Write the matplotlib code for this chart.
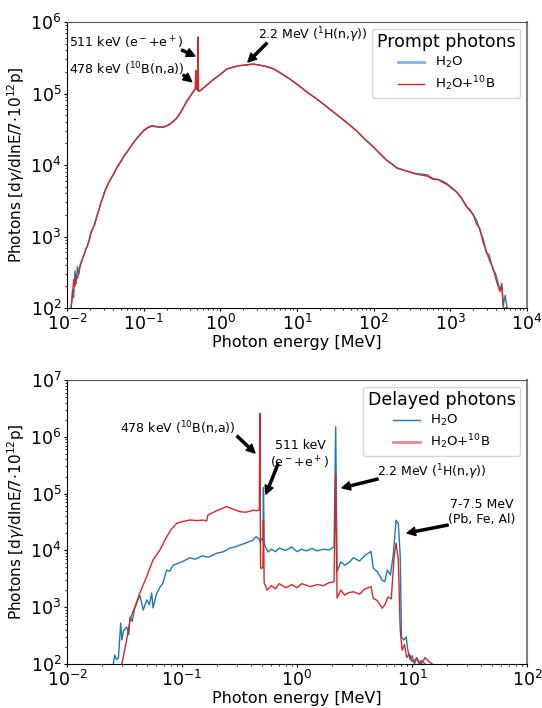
import matplotlib
matplotlib.use("Agg")
import matplotlib.pyplot as plt
from matplotlib.lines import Line2D

# ---------------- Prompt photons (top) ----------------
prompt_E = [0.0113, 0.0118, 0.0122, 0.0127, 0.0132, 0.0137, 0.0143, 0.0150, 0.0158, 0.0166,
            0.0175, 0.0185, 0.0195, 0.0205, 0.0218, 0.023, 0.0245, 0.026, 0.0275, 0.029,
            0.031, 0.033, 0.036, 0.040, 0.045, 0.050, 0.056, 0.063, 0.070, 0.080,
            0.090, 0.100, 0.115, 0.130, 0.150, 0.180, 0.210, 0.240, 0.270, 0.310,
            0.360, 0.410, 0.455, 0.470, 0.478, 0.487, 0.505, 0.511, 0.518, 0.55,
            0.65, 0.80, 1.0, 1.22, 1.5, 1.8, 2.2, 2.66, 3.2, 4.07,
            5.0, 6.5, 8.0, 10, 13, 18.9, 25, 32, 40, 49,
            60, 75, 98.6, 120, 147, 180, 200, 243, 300, 350,
            400, 500, 597, 700, 800, 890, 1000, 1200, 1400, 1620,
            1800, 1980, 2200, 2420, 2700, 2960, 3200, 3610, 3900, 4420,
            4700, 4900, 5200, 5500]
prompt_h2o = [100, 180, 140, 330, 220, 380, 300, 420, 470, 560,
              640, 760, 880, 1150, 1300, 1500, 1900, 2350, 2900, 3400,
              4200, 5000, 6000, 7300, 9200, 11000, 13500, 16000, 19000, 23000,
              26500, 30000, 33500, 35000, 34000, 33700, 36000, 40000, 45000, 56000,
              76000, 93000, 110000, 115000, 118000, 118000, 112000, 600000, 108000, 110000,
              128000, 155000, 185000, 220000, 235000, 245000, 252000, 258000, 250000, 237000,
              220000, 185000, 160000, 135000, 108000, 81000, 64000, 52000, 43000, 36000,
              30000, 23500, 18000, 14500, 11700, 10000, 9000, 8500, 8000, 7600,
              7480, 7300, 6450, 6300, 5900, 5540, 5000, 4240, 3500, 2610,
              2400, 2000, 1700, 1230, 900, 583, 560, 340, 300, 180,
              220, 110, 150, 100]
prompt_b10 = [100, 150, 250, 200, 290, 260, 340, 400, 480, 540,
              660, 740, 900, 1100, 1320, 1480, 1950, 2300, 2950, 3350,
              4250, 4950, 6050, 7300, 9300, 11100, 13600, 16100, 19100, 23200,
              26700, 30500, 34000, 35500, 34200, 33900, 36200, 40300, 45300, 56500,
              76500, 93500, 111000, 116000, 210000, 119000, 112000, 620000, 108000, 110000,
              128000, 155000, 185000, 221000, 236000, 246000, 250000, 258000, 250000, 237000,
              220000, 185000, 160000, 135000, 108000, 81000, 64000, 52000, 43000, 36000,
              30000, 23500, 18000, 14500, 11700, 10000, 9200, 8500, 7900, 7500,
              7300, 7000, 6300, 6200, 5700, 5400, 4900, 4200, 3400, 2650,
              2300, 2050, 1500, 1300, 800, 620, 480, 360, 260, 170,
              200, 100, 100, 100]

# ---------------- Delayed photons (bottom) ----------------
delayed_E_h2o = [0.0253, 0.026, 0.027, 0.028, 0.0293, 0.030, 0.031, 0.033, 0.0345, 0.0353,
                 0.037, 0.0385, 0.0404, 0.043, 0.046, 0.0494, 0.052, 0.0545, 0.056, 0.060,
                 0.0644, 0.068, 0.0736, 0.078, 0.084, 0.090, 0.10, 0.117, 0.13, 0.15,
                 0.17, 0.2, 0.23, 0.26, 0.29, 0.319, 0.36, 0.414, 0.44, 0.46,
                 0.47, 0.478, 0.49, 0.505, 0.511, 0.518, 0.53, 0.56, 0.6, 0.65,
                 0.7, 0.8, 0.9, 1.0, 1.1, 1.2, 1.35, 1.5, 1.7, 1.9,
                 2.1, 2.17, 2.23, 2.4, 2.6, 2.8, 3.1, 3.5, 3.9, 4.4,
                 4.6, 5.0, 5.5, 5.8, 6.1, 6.5, 6.9, 7.26, 7.6, 7.9,
                 8.1, 8.5, 8.9, 9.2, 9.6, 10, 10.5, 11, 11.5, 12, 13]
delayed_h2o = [100, 144, 120, 127, 525, 265, 380, 450, 330, 670,
               560, 900, 1180, 1620, 890, 1340, 1100, 1780, 970, 1700,
               2270, 2600, 4520, 4300, 5500, 5800, 6300, 7400, 7000, 8000,
               7600, 8900, 9500, 11000, 11500, 12400, 13500, 15200, 17400, 16500,
               15500, 14000, 16000, 15000, 127000, 14000, 11500, 9400, 10500, 9500,
               11000, 10000, 11500, 9500, 10500, 9800, 10800, 9800, 10500, 10200,
               11500, 1500000, 4200, 6300, 5500, 6000, 7400, 6500, 8200, 9600,
               4900, 4200, 3000, 2800, 4500, 3700, 9000, 34000, 30000, 8000,
               300, 265, 300, 175, 120, 140, 100, 130, 100, 115, 100]

delayed_E_b10 = [0.030, 0.033, 0.0353, 0.037, 0.039, 0.043, 0.0493, 0.056, 0.064, 0.0736,
                 0.08, 0.09, 0.10, 0.117, 0.135, 0.153, 0.164, 0.168, 0.2, 0.245,
                 0.28, 0.319, 0.36, 0.417, 0.45, 0.47, 0.475, 0.482, 0.49, 0.505,
                 0.511, 0.518, 0.55, 0.6, 0.65, 0.7, 0.8, 0.9, 1.0, 1.1,
                 1.3, 1.5, 1.7, 1.9, 2.1, 2.17, 2.23, 2.4, 2.6, 2.8,
                 3.1, 3.5, 3.9, 4.4, 4.6, 5.0, 5.5, 5.8, 6.2, 6.6,
                 7.0, 7.26, 7.6, 7.9, 8.2, 8.6, 9.0, 9.5, 10, 11,
                 12, 13, 14, 15]
delayed_b10 = [100, 265, 590, 780, 1020, 1780, 3460, 6800, 10000, 17300,
               23000, 30000, 32000, 34300, 33500, 34300, 33000, 42000, 50000, 59000,
               53000, 48000, 47000, 51000, 50000, 52000, 2600000, 5000, 4800, 5000,
               34000, 2700, 2000, 2400, 2100, 2600, 2200, 2500, 2200, 2600,
               2300, 2500, 2400, 2700, 2800, 220000, 1450, 2000, 1630, 1800,
               1870, 1700, 2100, 2300, 1440, 1300, 960, 1100, 1520, 1400,
               8000, 13500, 7000, 400, 175, 220, 130, 150, 110, 125,
               100, 130, 110, 100]

BLUE = "#1f77b4"
RED = "#d62728"

fig = plt.figure(figsize=(5.42, 7.08), dpi=100)
ax1 = fig.add_axes([67/542, 1-308/708, 460/542, 286/708])
ax2 = fig.add_axes([67/542, 1-664/708, 460/542, 284/708])

ax1.plot(prompt_E, prompt_h2o, color=BLUE, lw=1.0)
ax1.plot(prompt_E, prompt_b10, color=RED, lw=1.0)
ax2.plot(delayed_E_h2o, delayed_h2o, color=BLUE, lw=1.0)
ax2.plot(delayed_E_b10, delayed_b10, color=RED, lw=1.0)

ylabel = r"Photons [d$\gamma$/dlnE/7$\cdot$10$^{12}$p]"
for ax, xl, yl in [(ax1, (1e-2, 1e4), (1e2, 1e6)), (ax2, (1e-2, 1e2), (1e2, 1e7))]:
    ax.set_xscale("log")
    ax.set_yscale("log")
    ax.set_xlim(*xl)
    ax.set_ylim(*yl)
    ax.set_xlabel("Photon energy [MeV]", fontsize=11.5, labelpad=1)
    ax.set_ylabel(ylabel, fontsize=11, labelpad=2)
    ax.tick_params(axis="both", which="major", labelsize=12.5, length=2.5, pad=1.5)
    ax.tick_params(axis="both", which="minor", length=1.5)
    ax.spines["top"].set_color("#505050")
    ax.spines["right"].set_color("#808080")
    ax.spines["right"].set_linewidth(1.5)

arrow = dict(facecolor="black", edgecolor="black", width=1.5, headwidth=6, headlength=6, shrink=0.0)
tfs = 9

# Top annotations
ax1.text(0.0106, 5.08e5, r"511 keV (e$^-$+e$^+$)", fontsize=tfs, ha="left", va="center")
ax1.annotate("", xy=(0.467, 3.34e5), xytext=(0.313, 4.06e5), arrowprops=arrow)
ax1.text(0.0106, 2.2e5, r"478 keV ($^{10}$B(n,a))", fontsize=tfs, ha="left", va="center")
ax1.annotate("", xy=(0.423, 1.46e5), xytext=(0.328, 1.82e5), arrowprops=arrow)
ax1.text(3.09, 6.58e5, r"2.2 MeV ($^{1}$H(n,$\gamma$))", fontsize=tfs, ha="left", va="center")
ax1.annotate("", xy=(2.29, 2.76e5), xytext=(4.06, 5.08e5), arrowprops=arrow)

# Bottom annotations
ax2.text(0.289, 1.43e6, r"478 keV ($^{10}$B(n,a))", fontsize=tfs, ha="right", va="center")
ax2.annotate("", xy=(0.431, 5.19e5), xytext=(0.301, 1.03e6), arrowprops=arrow)
ax2.text(1.06, 4.79e5, "511 keV\n" + r"(e$^-$+e$^+$)", fontsize=tfs, ha="center", va="center", ma="center")
ax2.annotate("", xy=(0.537, 9.8e4), xytext=(0.684, 3.33e5), arrowprops=arrow)
ax2.text(4.97, 2.4e5, r"2.2 MeV ($^{1}$H(n,$\gamma$))", fontsize=tfs, ha="left", va="center")
ax2.annotate("", xy=(2.46, 1.26e5), xytext=(5.06, 1.81e5), arrowprops=arrow)
ax2.text(40.6, 4.84e4, "7-7.5 MeV\n(Pb, Fe, Al)", fontsize=tfs, ha="center", va="center", ma="center")
ax2.annotate("", xy=(9.05, 2.02e4), xytext=(20.6, 2.8e4), arrowprops=arrow)

# Legends
h_top = [Line2D([], [], color="#7fb3dc", lw=2.0), Line2D([], [], color=RED, lw=1.0)]
h_bot = [Line2D([], [], color=BLUE, lw=1.0), Line2D([], [], color="#e88a8b", lw=2.0)]
labels = [r"H$_2$O", r"H$_2$O+$^{10}$B"]
lg_kw = dict(loc="upper right", fontsize=9.5, title_fontsize=12.5, labelspacing=0.3,
             handlelength=2.0, borderpad=0.35, borderaxespad=0.5)
ax1.legend(h_top, labels, title="Prompt photons", **lg_kw)
ax2.legend(h_bot, labels, title="Delayed photons", **lg_kw)

fig.savefig("out.png", dpi=100)
